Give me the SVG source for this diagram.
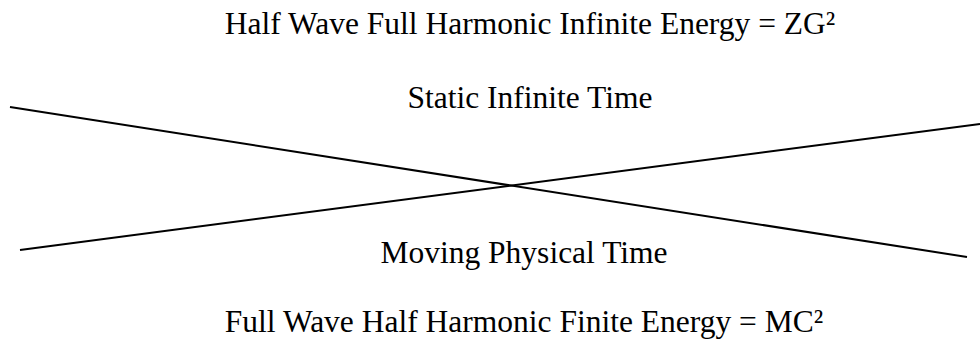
<svg xmlns="http://www.w3.org/2000/svg" width="980" height="339" viewBox="0 0 980 339">
<style>
text{font-family:"Liberation Serif","Times New Roman",serif;font-size:31.5px;fill:#000;text-anchor:middle}
line{stroke:#000;stroke-width:2}
</style>
<rect width="980" height="339" fill="#fff"/>
<g id="connectors">
<line x1="10" y1="107" x2="967" y2="257"/>
<line x1="20" y1="250" x2="980" y2="124"/>
</g>
<g id="top-label"><text x="530" y="34">Half Wave Full Harmonic Infinite Energy = ZG²</text></g>
<g id="static-label"><text x="530" y="108">Static Infinite Time</text></g>
<g id="moving-label"><text x="524" y="263">Moving Physical Time</text></g>
<g id="bottom-label"><text x="524" y="332">Full Wave Half Harmonic Finite Energy = MC²</text></g>
</svg>
